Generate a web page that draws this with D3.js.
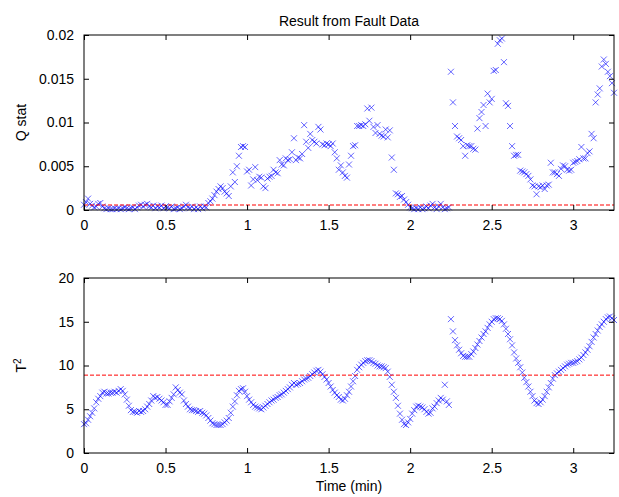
<!DOCTYPE html>
<html>
<head>
<meta charset="utf-8">
<script src="https://cdn.jsdelivr.net/npm/d3@7"></script>
<style>
  html, body { margin: 0; padding: 0; background: #ffffff; }
  svg { display: block; }
  text { font-family: "Liberation Sans", Arial, Helvetica, sans-serif; fill: #000; }
</style>
</head>
<body>
<svg id="chart" width="619" height="497"></svg>
<script>
// Sampling of the monitored signal (minutes between samples)
const sampleStep = 0.0125;

// Q statistic (SPE) for each sample
const qStat = [
  0.0006, 0.0009, 0.0013, 0.0007, 0.0005, 0.0003, 0.0004, 0.0007, 0.0008, 0.0004,
  0.0002, 0.0001, 0.0002, 0.0001, 0.0001, 0.0002, 0.0001, 0.0002, 0.0001, 0.0002,
  0.0003, 0.0002, 0.0001, 0.0002, 0.0003, 0.0001, 0.0003, 0.0005, 0.0006, 0.0004,
  0.0006, 0.0007, 0.0004, 0.0003, 0.0005, 0.0002, 0.0004, 0.0003, 0.0005, 0.0002,
  0.0004, 0.0003, 0.0002, 0.0004, 0.0001, 0.0002, 0.0003, 0.0001, 0.0002, 0.0004,
  0.0006, 0.0003, 0.0002, 0.0004, 0.0001, 0.0003, 0.0001, 0.0004, 0.0002, 0.0004,
  0.0003, 0.0008, 0.0010, 0.0013, 0.0017, 0.0021, 0.0024, 0.0027, 0.0025, 0.0021,
  0.0019, 0.0016, 0.0027, 0.0043, 0.0032, 0.0050, 0.0062, 0.0072, 0.0073, 0.0072,
  0.0044, 0.0046, 0.0028, 0.0035, 0.0049, 0.0034, 0.0038, 0.0037, 0.0027, 0.0025,
  0.0036, 0.0038, 0.0039, 0.0046, 0.0043, 0.0042, 0.0057, 0.0052, 0.0051, 0.0059,
  0.0057, 0.0058, 0.0066, 0.0082, 0.0057, 0.0060, 0.0059, 0.0064, 0.0097, 0.0078,
  0.0071, 0.0087, 0.0080, 0.0078, 0.0076, 0.0095, 0.0092, 0.0075, 0.0074, 0.0076,
  0.0075, 0.0073, 0.0076, 0.0066, 0.0059, 0.0046, 0.0051, 0.0043, 0.0039, 0.0037,
  0.0052, 0.0062, 0.0073, 0.0074, 0.0096, 0.0096, 0.0097, 0.0096, 0.0098, 0.0116,
  0.0102, 0.0117, 0.0095, 0.0088, 0.0097, 0.0087, 0.0085, 0.0084, 0.0092, 0.0083,
  0.0091, 0.0060, 0.0046, 0.0019, 0.0018, 0.0015, 0.0016, 0.0012, 0.0009, 0.0006,
  0.0003, 0.0002, 0.0001, 0.0002, 0.0001, 0.0003, 0.0001, 0.0002, 0.0004, 0.0002,
  0.0005, 0.0007, 0.0003, 0.0001, 0.0004, 0.0007, 0.0003, 0.0001, 0.0002, 0.0003,
  0.0158, 0.0123, 0.0096, 0.0084, 0.0082, 0.0080, 0.0073, 0.0062, 0.0074, 0.0073,
  0.0073, 0.0070, 0.0069, 0.0093, 0.0105, 0.0112, 0.0120, 0.0096, 0.0133, 0.0123,
  0.0127, 0.0159, 0.0160, 0.0190, 0.0194, 0.0196, 0.0169, 0.0122, 0.0119, 0.0096,
  0.0073, 0.0062, 0.0063, 0.0063, 0.0045, 0.0044, 0.0043, 0.0041, 0.0039, 0.0035,
  0.0028, 0.0027, 0.0018, 0.0027, 0.0026, 0.0028, 0.0024, 0.0028, 0.0029, 0.0054,
  0.0043, 0.0043, 0.0041, 0.0039, 0.0047, 0.0051, 0.0050, 0.0046, 0.0045, 0.0046,
  0.0054, 0.0055, 0.0056, 0.0058, 0.0072, 0.0059, 0.0059, 0.0065, 0.0067, 0.0087,
  0.0082, 0.0123, 0.0132, 0.0139, 0.0164, 0.0172, 0.0167, 0.0158, 0.0153, 0.0145,
  0.0134
];

// Hotelling T-squared for each sample
const tSquared = [
  3.3, 3.4, 3.8, 4.2, 4.6, 5.1, 5.8, 6.2, 6.5, 6.9,
  7.0, 6.8, 6.8, 6.9, 6.9, 7.0, 6.9, 7.1, 7.3, 7.1,
  6.7, 6.1, 5.4, 4.9, 4.7, 4.7, 4.6, 4.8, 4.7, 4.8,
  5.0, 5.3, 5.6, 6.0, 6.5, 6.3, 6.4, 6.2, 6.0, 5.8,
  5.5, 5.5, 5.9, 6.3, 6.7, 7.5, 7.2, 6.9, 6.7, 6.0,
  5.6, 5.3, 5.0, 4.9, 4.9, 4.8, 4.7, 4.8, 4.6, 4.5,
  4.3, 4.0, 3.7, 3.4, 3.3, 3.2, 3.2, 3.2, 3.3, 3.5,
  3.7, 4.0, 4.6, 5.3, 5.9, 6.6, 7.1, 7.3, 7.4, 7.0,
  6.5, 6.1, 5.8, 5.5, 5.3, 5.2, 5.1, 5.0, 5.2, 5.4,
  5.6, 5.8, 6.0, 6.1, 6.3, 6.4, 6.6, 6.7, 6.9, 7.1,
  7.3, 7.5, 7.8, 8.0, 7.8, 7.9, 8.0, 8.2, 8.4, 8.5,
  8.6, 8.8, 9.0, 9.2, 9.4, 9.5, 9.3, 9.0, 8.7, 8.4,
  8.0, 7.6, 7.2, 6.9, 6.6, 6.4, 6.1, 6.0, 6.2, 6.6,
  7.0, 7.6, 8.2, 8.8, 9.5, 9.8, 10.1, 10.3, 10.5, 10.6,
  10.6, 10.5, 10.3, 10.2, 10.0, 9.9, 9.9, 9.8, 9.7, 9.3,
  8.7, 7.8, 7.0, 6.3, 5.4, 4.5, 3.8, 3.3, 3.2, 3.5,
  3.9, 4.5, 4.9, 5.3, 5.4, 5.3, 5.2, 5.0, 4.7, 4.5,
  4.6, 5.1, 5.3, 5.7, 6.0, 6.3, 6.1, 7.8, 5.9, 5.5,
  15.3, 13.9, 12.9, 12.3, 11.8, 11.4, 11.1, 11.0, 11.0, 11.0,
  11.3, 11.6, 12.0, 12.4, 12.8, 13.2, 13.6, 13.9, 14.3, 14.7,
  15.0, 15.3, 15.4, 15.4, 15.3, 15.1, 14.7, 14.2, 13.6, 13.0,
  12.3, 11.5, 10.8, 10.3, 9.8, 9.2, 8.6, 8.1, 7.6, 7.0,
  6.5, 6.0, 5.7, 5.6, 5.8, 6.1, 6.5, 7.0, 7.5, 8.0,
  8.5, 8.9, 9.1, 9.3, 9.5, 9.7, 9.9, 10.1, 10.2, 10.3,
  10.3, 10.4, 10.5, 10.7, 10.9, 11.2, 11.5, 11.8, 12.2, 12.7,
  13.2, 13.6, 14.0, 14.4, 14.7, 15.0, 15.3, 15.5, 15.6, 15.4,
  15.2
];

// Control limits (95% confidence)
const qLimit = 0.00057;
const tLimit = 8.9;

// Axis ticks and their labels
const timeTicks = [0, 0.5, 1, 1.5, 2, 2.5, 3];
const timeTickLabels = ["0", "0.5", "1", "1.5", "2", "2.5", "3"];
const qTicks = [0, 0.005, 0.01, 0.015, 0.02];
const qTickLabels = ["0", "0.005", "0.01", "0.015", "0.02"];
const tTicks = [0, 5, 10, 15, 20];
const tTickLabels = ["0", "5", "10", "15", "20"];

const time = d3.range(qStat.length).map(i => i * sampleStep);

const svg = d3.select("#chart");
const left = 84, right = 614;
const fontSize = 14;

const x = d3.scaleLinear().domain([0, 3.25]).range([left, right]);

function panel(opts) {
  const { top, bottom, yDomain, yTicks, yLabels, values, limit } = opts;
  const y = d3.scaleLinear().domain(yDomain).range([bottom, top]);
  const g = svg.append("g");

  // data markers
  const size = 3;
  g.append("g").selectAll("path")
    .data(values.map((v, i) => [time[i], v]))
    .join("path")
    .attr("d", d => {
      const cx = x(d[0]), cy = y(d[1]);
      return `M${cx - size},${cy - size}L${cx + size},${cy + size}M${cx - size},${cy + size}L${cx + size},${cy - size}`;
    })
    .attr("fill", "none")
    .attr("stroke", "#0000ff")
    .attr("stroke-opacity", 0.6)
    .attr("stroke-width", 1);

  // control limit
  g.append("line")
    .attr("x1", x(0)).attr("x2", x(3.25))
    .attr("y1", y(limit)).attr("y2", y(limit))
    .attr("stroke", "#ff0000")
    .attr("stroke-width", 1)
    .attr("stroke-dasharray", "4,2");

  // axes with inward ticks on all four sides
  const tickLen = 5;
  const axisStyle = sel => {
    sel.select(".domain").remove();
    sel.selectAll(".tick line").attr("stroke", "#000");
    sel.selectAll(".tick text").style("font-size", fontSize + "px")
      .style("font-family", '"Liberation Sans", Arial, sans-serif');
  };

  g.append("g").attr("transform", `translate(0,${bottom})`)
    .call(d3.axisBottom(x).tickValues(timeTicks)
      .tickFormat((d, i) => timeTickLabels[i]).tickSizeInner(-tickLen).tickSizeOuter(0).tickPadding(10))
    .call(axisStyle);
  g.append("g").attr("transform", `translate(0,${top})`)
    .call(d3.axisTop(x).tickValues(timeTicks).tickFormat("").tickSizeInner(-tickLen).tickSizeOuter(0))
    .call(axisStyle);
  g.append("g").attr("transform", `translate(${left},0)`)
    .call(d3.axisLeft(y).tickValues(yTicks)
      .tickFormat((d, i) => yLabels[i]).tickSizeInner(-tickLen).tickSizeOuter(0).tickPadding(10))
    .call(axisStyle);
  g.append("g").attr("transform", `translate(${right},0)`)
    .call(d3.axisRight(y).tickValues(yTicks).tickFormat("").tickSizeInner(-tickLen).tickSizeOuter(0))
    .call(axisStyle);

  g.append("rect")
    .attr("x", left).attr("y", top)
    .attr("width", right - left).attr("height", bottom - top)
    .attr("fill", "none").attr("stroke", "#000").attr("stroke-width", 1);

  return { g, y };
}

const topPanel = panel({
  top: 35, bottom: 210, yDomain: [0, 0.02],
  yTicks: qTicks, yLabels: qTickLabels, values: qStat, limit: qLimit
});
const bottomPanel = panel({
  top: 278, bottom: 453, yDomain: [0, 20],
  yTicks: tTicks, yLabels: tTickLabels, values: tSquared, limit: tLimit
});

// title and axis labels
svg.append("text")
  .attr("x", (left + right) / 2).attr("y", 26)
  .attr("text-anchor", "middle")
  .style("font-size", fontSize + "px")
  .text("Result from Fault Data");

svg.append("text")
  .attr("transform", `translate(26,${(35 + 210) / 2}) rotate(-90)`)
  .attr("text-anchor", "middle")
  .style("font-size", fontSize + "px")
  .text("Q stat");

const tLabel = svg.append("text")
  .attr("transform", `translate(26,${(278 + 453) / 2}) rotate(-90)`)
  .attr("text-anchor", "middle")
  .style("font-size", fontSize + "px");
tLabel.append("tspan").text("T");
tLabel.append("tspan").attr("baseline-shift", "super").style("font-size", "10px").text("2");

svg.append("text")
  .attr("x", (left + right) / 2).attr("y", 491)
  .attr("text-anchor", "middle")
  .style("font-size", fontSize + "px")
  .text("Time (min)");
</script>
</body>
</html>
